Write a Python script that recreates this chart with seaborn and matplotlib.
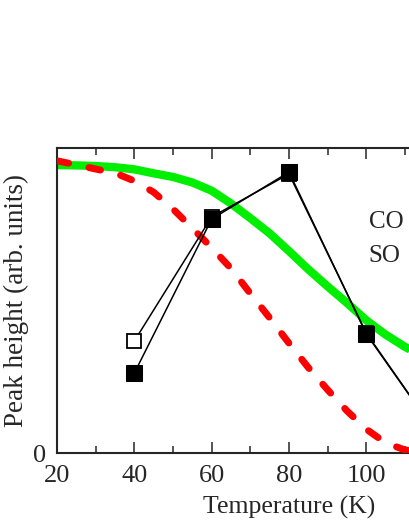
import numpy as np
import pandas as pd
import matplotlib
matplotlib.use("Agg")
import matplotlib.pyplot as plt
import seaborn as sns

# curves (normalized peak height)
temp_curve = [20, 25, 30, 35, 40, 45, 50, 55, 60, 65, 70, 75, 80, 85, 90, 95, 100,
              105, 110, 115, 120]
green_curve = [0.944, 0.943, 0.941, 0.937, 0.93, 0.917, 0.905, 0.887, 0.86, 0.818,
               0.77, 0.72, 0.662, 0.602, 0.546, 0.492, 0.435, 0.388, 0.348, 0.315, 0.285]
red_curve = [0.958, 0.945, 0.931, 0.918, 0.892, 0.855, 0.80, 0.737, 0.673, 0.605,
             0.523, 0.443, 0.36, 0.28, 0.207, 0.138, 0.078, 0.033, 0.01, 0.002, 0.0]

# measured points
temp_pts = [40, 60, 80, 100, 120]
filled_pts = [0.262, 0.767, 0.921, 0.39, 0.03]
open_pts = [0.367, 0.774, 0.915, 0.393, 0.03]

xticks = [20, 40, 60, 80, 100]

sns.set_style("ticks")
plt.rcParams['font.family'] = ['Liberation Serif', 'DejaVu Serif']

fig = plt.figure(figsize=(4.09, 5.29), dpi=100)
ax = fig.add_axes([57 / 409, 76 / 529, 464 / 409, 305 / 529])

curves = pd.DataFrame({"T": temp_curve, "green": green_curve, "red": red_curve})
pts = pd.DataFrame({"T": temp_pts, "filled": filled_pts, "open": open_pts})

sns.lineplot(data=curves, x="T", y="green", ax=ax, color="#00ee00", lw=6,
             solid_capstyle="butt", solid_joinstyle="round", zorder=2)
sns.lineplot(data=curves, x="T", y="red", ax=ax, color="#ff0000", lw=5,
             linestyle=(0, (1.7, 3.0)), dash_capstyle="round", zorder=3)
sns.lineplot(data=pts, x="T", y="open", ax=ax, color="black", lw=1.1,
             marker="s", markersize=10, markerfacecolor="white",
             markeredgecolor="black", markeredgewidth=1.3, zorder=4)
sns.lineplot(data=pts, x="T", y="filled", ax=ax, color="black", lw=1.1,
             marker="s", markersize=11, markerfacecolor="black",
             markeredgecolor="black", zorder=5)

ax.text(100.6, 0.757, "CO", fontsize=18, va="center", ha="left")
ax.text(100.6, 0.646, "SO", fontsize=18, va="center", ha="left")

ax.set_xlim(20, 140)
ax.set_ylim(0, 1)
ax.set_xticks(xticks)
ax.set_xticks(np.arange(30, 140, 20), minor=True)
ax.set_yticks([0])
ax.tick_params(axis="x", which="major", direction="in", length=8, width=1.1,
               top=True, labelsize=19, pad=9)
ax.tick_params(axis="x", which="minor", direction="in", length=5, width=1.1, top=True)
ax.tick_params(axis="y", length=0, labelsize=19, pad=8)
for s in ax.spines.values():
    s.set_linewidth(1.5)

ax.set_xlabel("Temperature (K)", fontsize=18.5, labelpad=6)
ax.set_ylabel("Peak height (arb. units)", fontsize=19.5, labelpad=3)

fig.savefig("out.png", dpi=100)
